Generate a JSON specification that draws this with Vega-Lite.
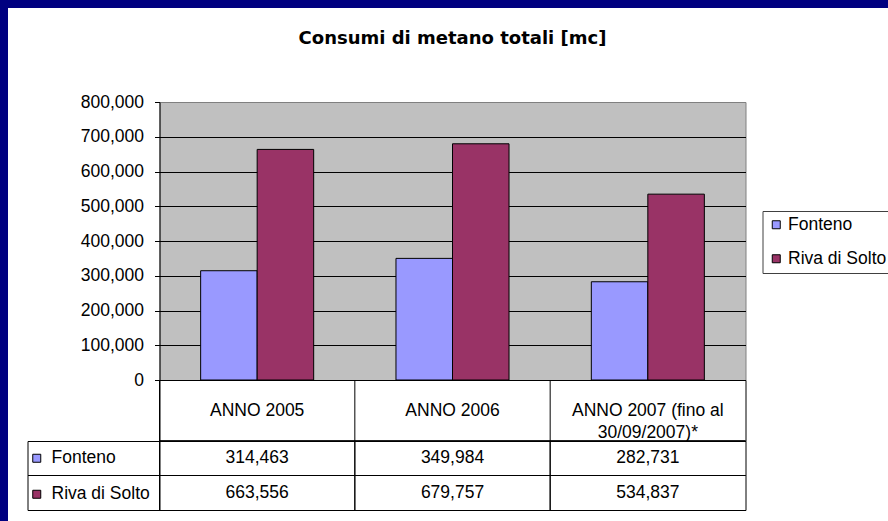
{
  "$schema": "https://vega.github.io/schema/vega-lite/v6.json",
  "padding": 0,
  "background": "white",
  "spacing": 0,
  "datasets": {
    "consumi": [
      {"anno": "ANNO 2005", "comune": "Fonteno", "consumo": 314463},
      {"anno": "ANNO 2005", "comune": "Riva di Solto", "consumo": 663556},
      {"anno": "ANNO 2006", "comune": "Fonteno", "consumo": 349984},
      {"anno": "ANNO 2006", "comune": "Riva di Solto", "consumo": 679757},
      {"anno": "ANNO 2007 (fino al\n30/09/2007)*", "comune": "Fonteno", "consumo": 282731},
      {"anno": "ANNO 2007 (fino al\n30/09/2007)*", "comune": "Riva di Solto", "consumo": 534837}
    ]
  },
  "config": {
    "font": "Liberation Sans",
    "view": {"stroke": null},
    "axis": {"labelFont": "Liberation Sans", "labelFontSize": 17.5, "labelColor": "black"},
    "legend": {"labelFont": "Liberation Sans", "labelFontSize": 17.5, "labelColor": "black"}
  },
  "vconcat": [
    {
      "data": {"values": [{}]},
      "width": 888,
      "height": 8,
      "view": {"fill": "#000080", "stroke": null},
      "mark": {"type": "point", "opacity": 0},
      "encoding": {}
    },
    {
      "spacing": 18.5,
      "hconcat": [
        {
          "data": {"values": [{}]},
          "width": 8,
          "height": 513,
          "view": {"fill": "#000080", "stroke": null},
          "mark": {"type": "point", "opacity": 0},
          "encoding": {}
        },
        {
          "spacing": 0,
          "bounds": "flush",
          "resolve": {"legend": {"color": "independent"}},
          "vconcat": [
            {
              "data": {"values": [{}]},
              "width": 586,
              "height": 94,
              "view": {"stroke": null},
              "mark": {"type": "point", "opacity": 0},
              "encoding": {}
            },
            {
              "data": {"name": "consumi"},
              "width": 586,
              "height": 278,
              "title": {
                "text": "Consumi di metano totali [mc]",
                "font": "DejaVu Sans",
                "fontSize": 18,
                "fontWeight": "bold",
                "color": "black",
                "anchor": "middle",
                "baseline": "alphabetic",
                "offset": 31.5
              },
              "view": {"fill": "#C0C0C0", "stroke": "#808080"},
              "mark": {"type": "bar", "stroke": "black", "strokeWidth": 1},
              "encoding": {
                "x": {"field": "anno", "type": "nominal", "scale": {"paddingInner": 0, "paddingOuter": 0}, "axis": null},
                "xOffset": {"field": "comune", "type": "nominal", "scale": {"paddingInner": 0, "paddingOuter": 0.728}},
                "y": {
                  "field": "consumo",
                  "type": "quantitative",
                  "scale": {"domain": [0, 800000], "nice": false},
                  "axis": {
                    "title": null,
                    "values": [0, 100000, 200000, 300000, 400000, 500000, 600000, 700000, 800000],
                    "labelExpr": "format(datum.value, ',')",
                    "grid": true,
                    "gridColor": {"condition": {"test": "datum.value === 800000", "value": "#808080"}, "value": "black"},
                    "gridOpacity": 1,
                    "domainColor": "black",
                    "tickColor": "black",
                    "tickSize": 5,
                    "labelPadding": 11
                  }
                },
                "color": {
                  "field": "comune",
                  "type": "nominal",
                  "scale": {"range": ["#9999FF", "#993366"]},
                  "legend": {
                    "orient": "none",
                    "legendX": 603,
                    "legendY": 109,
                    "title": null,
                    "symbolType": "square",
                    "symbolSize": 64,
                    "symbolStrokeColor": "black",
                    "symbolStrokeWidth": 1,
                    "labelOffset": 3,
                    "rowPadding": 15,
                    "padding": 5,
                    "strokeColor": "#404040",
                    "fillColor": "white"
                  }
                }
              }
            },
            {
              "data": {"name": "consumi"},
              "transform": [{"filter": "datum.comune === 'Fonteno'"}],
              "width": 586,
              "height": 61,
              "view": {"stroke": "black", "fill": "white"},
              "layer": [
                {
                  "mark": {"type": "rule", "color": "black"},
                  "encoding": {
                    "x": {"field": "anno", "type": "nominal", "bandPosition": 0, "scale": {"paddingInner": 0, "paddingOuter": 0}, "axis": null}
                  }
                },
                {
                  "mark": {"type": "text", "lineBreak": "\n", "lineHeight": 22, "fontSize": 17.5, "color": "black"},
                  "encoding": {
                    "x": {"field": "anno", "type": "nominal", "axis": null},
                    "text": {"field": "anno", "type": "nominal"}
                  }
                }
              ]
            },
            {
              "data": {"name": "consumi"},
              "width": 586,
              "height": 69,
              "view": {"stroke": "black", "fill": "white"},
              "resolve": {"axis": {"y": "independent"}},
              "layer": [
                {
                  "mark": {"type": "rule", "color": "black"},
                  "encoding": {
                    "x": {"field": "anno", "type": "nominal", "bandPosition": 0, "scale": {"paddingInner": 0, "paddingOuter": 0}, "axis": null}
                  }
                },
                {
                  "mark": {"type": "rule", "color": "black"},
                  "encoding": {
                    "y": {
                      "field": "comune", "type": "nominal", "bandPosition": 0,
                      "scale": {"paddingInner": 0, "paddingOuter": 0},
                      "axis": {"orient": "left", "bandPosition": 0, "tickSize": 132, "tickColor": "black", "domain": false, "labels": false, "title": null}
                    }
                  }
                },
                {
                  "mark": {"type": "text", "fontSize": 17.5, "color": "black"},
                  "encoding": {
                    "x": {"field": "anno", "type": "nominal", "axis": null},
                    "y": {
                      "field": "comune", "type": "nominal",
                      "axis": {"orient": "left", "bandPosition": 1, "tickSize": 132, "tickColor": "black", "domain": false, "labels": false, "title": null}
                    },
                    "text": {"field": "consumo", "type": "quantitative", "format": ","}
                  }
                },
                {
                  "mark": {"type": "square", "opacity": 0},
                  "encoding": {
                    "x": {"field": "anno", "type": "nominal", "axis": null},
                    "y": {
                      "field": "comune", "type": "nominal",
                      "axis": {"orient": "left", "offset": 132, "ticks": false, "labels": false, "domain": true, "domainColor": "black", "title": null}
                    },
                    "color": {
                      "field": "comune",
                      "type": "nominal",
                      "legend": {
                        "orient": "none",
                        "legendX": -131.5,
                        "legendY": 8.5,
                        "title": null,
                        "symbolType": "square",
                        "symbolSize": 64,
                        "symbolStrokeColor": "black",
                        "symbolStrokeWidth": 1,
                        "symbolOpacity": 1,
                        "labelOffset": 6,
                        "rowPadding": 17,
                        "padding": 0
                      }
                    }
                  }
                }
              ]
            }
          ]
        }
      ]
    }
  ]
}
